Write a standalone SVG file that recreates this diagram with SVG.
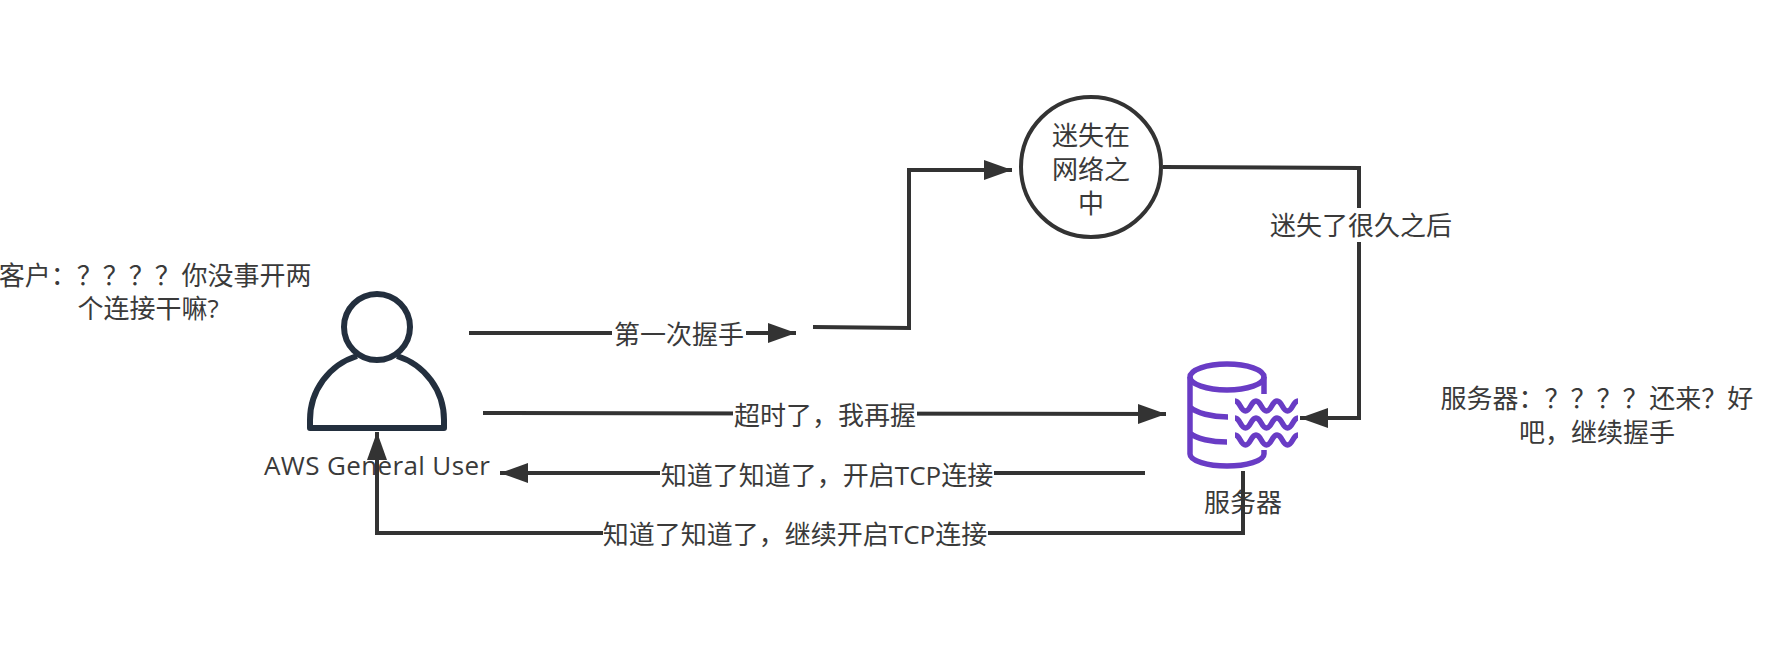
<svg xmlns="http://www.w3.org/2000/svg" width="1765" height="662" viewBox="0 0 1765 662">
<style>
text{font-family:"Open Sans","Noto Sans CJK SC",sans-serif;font-size:26px;fill:#3a3a3a;text-anchor:middle}
.n{word-spacing:-6px}
.c{fill:none;stroke:#333;stroke-width:4}
.bg{fill:#fff}
.p{fill:none;stroke:#232f3e;stroke-width:6;stroke-linejoin:round}
.s{fill:none;stroke:#693cc5;stroke-width:5.5}
</style>
<defs>
<marker id="a" markerUnits="userSpaceOnUse" markerWidth="30" markerHeight="28" refX="28" refY="14" orient="auto"><path d="M0,4L28,14L0,24Z" fill="#333"/></marker>
<path id="w" d="M0,-5c5,0 5.5,10 10.5,10c5,0 5.5,-10 10.5,-10c5,0 5.5,10 10.5,10c5,0 5.5,-10 10.5,-10c5,0 5.5,10 10.5,10c5,0 5.5,-10 10.5,-10"/>
</defs>
<rect width="1765" height="662" fill="#fff"/>
<g id="user">
<circle class="p" cx="377" cy="327" r="33"/>
<path class="p" d="M357,356A67,67 0 0 0 310,420V428H444V420A67,67 0 0 0 397,356"/>
<text x="377" y="475" textLength="226">AWS General User</text>
</g>
<g id="server">
<ellipse class="s" cx="1227" cy="377" rx="37" ry="13"/>
<path class="s" d="M1190,377V454C1190,461 1208,466 1227,466C1246,466 1264,461 1264,454V450M1264,377V394M1190,407C1196,413 1212,417 1228,417M1190,433C1196,439 1212,442 1227,442"/>
<use class="s" href="#w" x="1235" y="406"/>
<use class="s" href="#w" x="1235" y="423"/>
<use class="s" href="#w" x="1235" y="440"/>
<text x="1243" y="512">服务器</text>
</g>
<g id="lost">
<circle cx="1091" cy="167" r="70" fill="#fff" stroke="#333" stroke-width="4"/>
<text x="1091" y="145">迷失在</text>
<text x="1091" y="179">网络之</text>
<text x="1091" y="213">中</text>
</g>
<g id="connectors">
<path class="c" d="M469,333L796,333" marker-end="url(#a)"/>
<path class="c" d="M813,327L909,328V170H1012" marker-end="url(#a)"/>
<path class="c" d="M1163,167L1359,168V418H1300" marker-end="url(#a)"/>
<path class="c" d="M483,413L1166,414" marker-end="url(#a)"/>
<path class="c" d="M1145,473H500" marker-end="url(#a)"/>
<path class="c" d="M1243,471V533H377V432" marker-end="url(#a)"/>
<rect class="bg" x="612" y="318" width="134" height="32"/>
<text x="679" y="344">第一次握手</text>
<rect class="bg" x="1270" y="208" width="182" height="34"/>
<text x="1361" y="235">迷失了很久之后</text>
<rect class="bg" x="733" y="398" width="184" height="32"/>
<text x="825" y="425">超时了，我再握</text>
<rect class="bg" x="660" y="458" width="334" height="32"/>
<text x="827" y="485">知道了知道了，开启TCP连接</text>
<rect class="bg" x="603" y="518" width="385" height="32"/>
<text x="795" y="544">知道了知道了，继续开启TCP连接</text>
</g>
<text class="n" x="155" y="285">客户：？？？？ 你没事开两</text>
<text x="148" y="318">个连接干嘛?</text>
<text class="n" x="1597" y="408">服务器：？？？？ 还来？好</text>
<text x="1597" y="442">吧，继续握手</text>
</svg>
